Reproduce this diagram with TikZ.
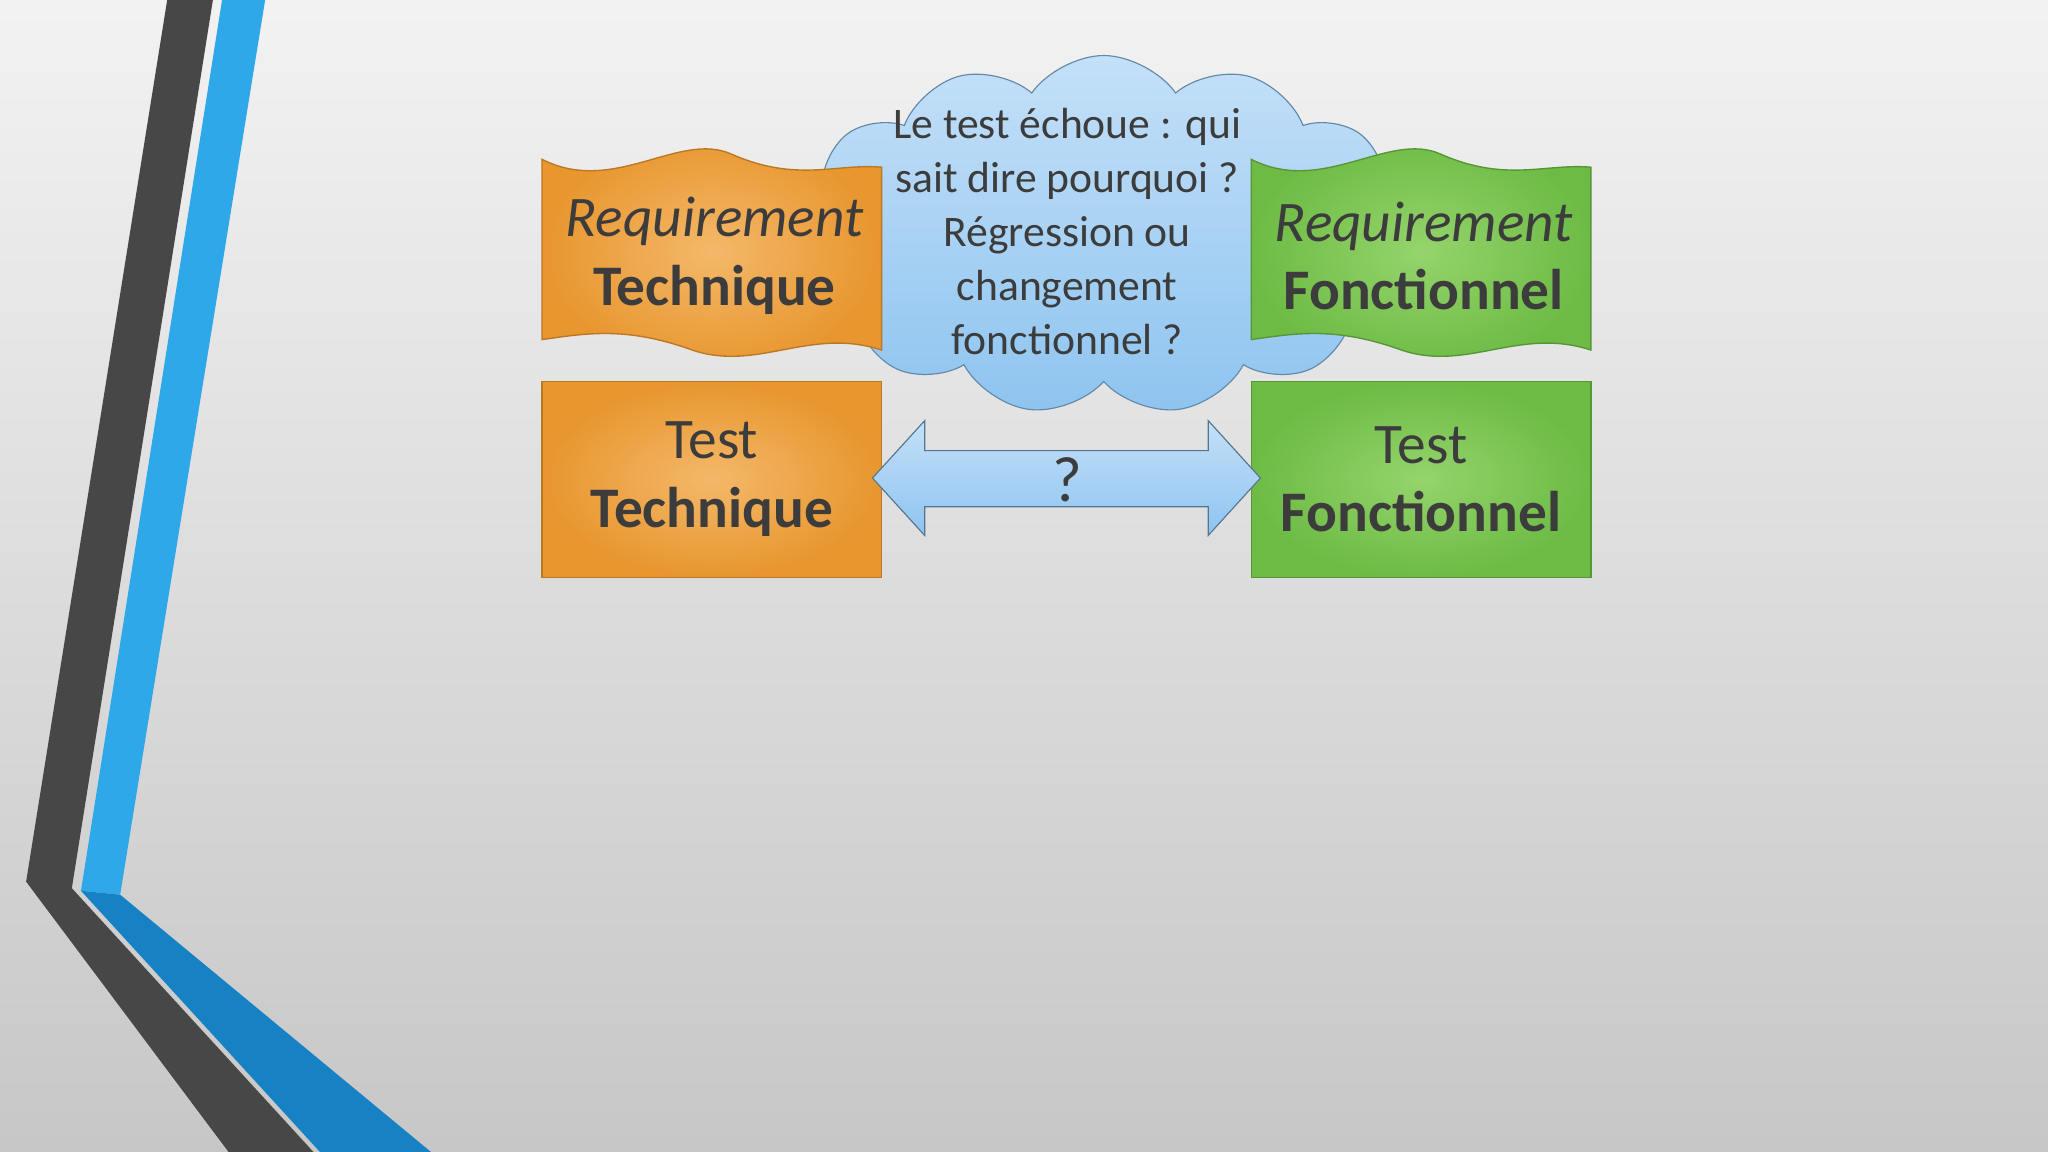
\documentclass[tikz,border=0pt]{standalone}
\usepackage{fontspec}
\setmainfont{Carlito}
\usetikzlibrary{shapes.symbols}
\definecolor{org}{HTML}{E8962E}
\definecolor{orgl}{HTML}{F4B86A}
\definecolor{grn}{HTML}{6DBB45}
\definecolor{grnl}{HTML}{95D46C}
\definecolor{txt}{HTML}{3C3C3C}
\definecolor{cld}{HTML}{8EC4F0}
\definecolor{cldl}{HTML}{C4E0F8}
\definecolor{stripeb}{HTML}{2EA8E8}
\definecolor{stripebd}{HTML}{1682C4}
\tikzset{
  orgbox/.style={draw=org!80!black, line width=0.6pt, inner color=orgl, outer color=org},
  grnbox/.style={draw=grn!80!black, line width=0.6pt, inner color=grnl, outer color=grn},
  lbl/.style={text=txt, align=center, font=\fontsize{25}{30}\selectfont},
  cl/.style={text=txt, align=center, font=\fontsize{19}{23.5}\selectfont}
}
\begin{document}
\begin{tikzpicture}[x=0.02cm,y=-0.02cm]
\useasboundingbox (0,0) rectangle (1568,882);
\shade[top color=black!5, bottom color=black!22] (0,0) rectangle (1568,882);
% left decor
\fill[black!72] (128,0) -- (163,0) -- (55,680) -- (240,882) -- (175,882) -- (20,675) -- cycle;
\fill[stripeb] (170,0) -- (203,0) -- (92,685) -- (62,682) -- cycle;
\fill[stripebd] (62,682) -- (92,685) -- (330,882) -- (245,882) -- cycle;
% cloud
\node[cloud, cloud puffs=13, cloud puff arc=110, aspect=1.8, minimum width=475*0.02cm, minimum height=275*0.02cm,
  draw=cld!70!black, line width=0.5pt, top color=cldl, bottom color=cld] (cloud) at (845,180) {};
% wavy boxes
\path[orgbox] (415,122) .. controls (470,150) and (520,100) .. (560,118) .. controls (610,140) and (640,125) .. (675,128)
  -- (675,268) .. controls (620,250) and (580,285) .. (530,268) .. controls (480,250) and (450,255) .. (415,260) -- cycle;
\path[grnbox] (958,122) .. controls (1013,150) and (1063,100) .. (1103,118) .. controls (1153,140) and (1183,125) .. (1218,128)
  -- (1218,268) .. controls (1163,250) and (1123,285) .. (1073,268) .. controls (1023,250) and (993,255) .. (958,260) -- cycle;
\node[lbl] (rt) at (547,196) {\itshape Requirement\\ \bfseries Technique};
\node[lbl] (rf) at (1090,196) {\itshape Requirement\\ \bfseries Fonctionnel};
\node[cl] (ct) at (817,177) {Le test échoue : qui\\sait dire pourquoi ?\\Régression ou\\changement\\fonctionnel ?};
% test boxes
\node[orgbox, minimum width=260*0.02cm, minimum height=150*0.02cm] (tt) at (545,367) {};
\node[grnbox, minimum width=260*0.02cm, minimum height=150*0.02cm] (tf) at (1088,367) {};
\node[lbl] at (tt) {Test\\ \bfseries Technique};
\node[lbl] at (tf) {Test\\ \bfseries Fonctionnel};
% arrow
\path[draw=cld!60!black, line width=0.5pt, top color=cldl, bottom color=cld]
  (668,366) -- (708,322) -- (708,345) -- (925,345) -- (925,322) -- (965,366) -- (925,410) -- (925,388) -- (708,388) -- (708,410) -- cycle;
\node[text=txt, font=\fontsize{28}{30}\selectfont] (q) at (817,367) {?};
\end{tikzpicture}
\end{document}
